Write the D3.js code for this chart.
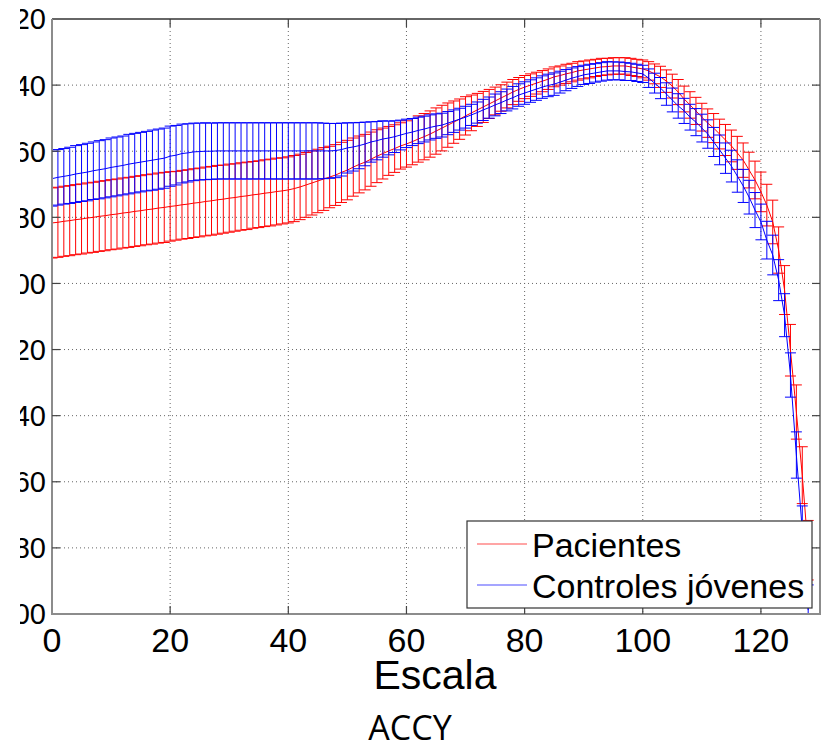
<!DOCTYPE html>
<html>
<head>
<meta charset="utf-8">
<script src="https://cdn.jsdelivr.net/npm/d3@7"></script>
<style>
  html, body { margin: 0; padding: 0; background: #fff; }
  svg { display: block; }
</style>
</head>
<body>
<svg id="chart" width="830" height="745"></svg>
<script>
// ---------------- DATA ----------------
const escala = d3.range(0, 129); // x positions 0..128

const pacientesMedia = [
  -181.7,-181.5,-181.2,-181.0,-180.7,-180.5,-180.2,-180.0,-179.7,-179.5,
  -179.2,-179.0,-178.7,-178.5,-178.2,-178.0,-177.7,-177.5,-177.2,-177.0,
  -176.7,-176.5,-176.2,-176.0,-175.7,-175.5,-175.2,-175.0,-174.7,-174.5,
  -174.2,-174.0,-173.7,-173.5,-173.2,-173.0,-172.7,-172.5,-172.2,-172.0,
  -171.7,-171.3,-170.8,-170.2,-169.6,-169.0,-168.4,-167.8,-167.2,-166.4,
  -165.7,-164.8,-164.0,-163.3,-162.4,-161.5,-160.7,-159.9,-159.2,-158.4,
  -157.8,-157.1,-156.3,-155.6,-154.8,-153.9,-153.0,-152.1,-151.2,-150.3,
  -149.3,-148.4,-147.5,-146.6,-145.7,-144.8,-143.9,-143.0,-142.1,-141.3,
  -140.6,-140.0,-139.4,-138.8,-138.2,-137.5,-137.1,-136.6,-136.2,-135.7,
  -135.4,-135.1,-134.8,-134.5,-134.4,-134.2,-134.2,-134.2,-134.5,-134.8,
  -135.1,-135.7,-136.6,-137.5,-138.8,-140.3,-142.1,-144.2,-146.0,-147.8,
  -149.7,-151.5,-153.0,-154.8,-156.6,-158.4,-160.5,-162.7,-165.7,-168.7,
  -172.3,-176.3,-181.4,-189.9,-202.0,-220.2,-238.9,-258.0,-280.7
];
const pacientesDE = [
  10.6,10.6,10.6,10.6,10.6,10.6,10.6,10.6,10.6,10.6,
  10.6,10.6,10.6,10.6,10.6,10.6,10.6,10.6,10.6,10.6,
  10.5,10.4,10.4,10.4,10.4,10.4,10.4,10.4,10.4,10.3,
  10.3,10.2,10.2,10.2,10.1,10.1,10.1,10.1,10.1,10.0,
  10.0,10.0,9.9,9.8,9.7,9.6,9.5,9.3,9.2,9.1,
  9.0,8.8,8.6,8.4,8.2,8.0,7.7,7.4,7.2,7.0,
  7.0,7.0,7.0,7.0,7.0,7.0,6.9,6.7,6.4,6.1,
  5.8,5.4,5.0,4.7,4.4,4.2,4.0,3.9,3.8,3.6,
  3.5,3.4,3.3,3.2,3.1,3.0,2.9,2.9,2.8,2.8,
  2.7,2.7,2.6,2.6,2.5,2.5,2.5,2.5,2.6,2.6,
  2.7,2.8,3.0,3.2,3.4,3.6,3.8,3.9,4.0,4.1,
  4.2,4.3,4.4,4.5,4.7,4.8,5.0,5.2,5.4,5.7,
  6.0,6.3,6.6,7.0,7.4,7.8,8.2,8.6,9.0
];
const controlesMedia = [
  -168.3,-167.9,-167.6,-167.3,-166.9,-166.6,-166.3,-165.9,-165.6,-165.3,
  -164.9,-164.6,-164.3,-163.9,-163.6,-163.3,-163.0,-162.7,-162.4,-162.1,
  -161.5,-161.2,-160.7,-160.5,-160.2,-160.1,-160.0,-160.0,-159.9,-159.9,
  -159.9,-159.9,-159.9,-159.9,-159.9,-159.9,-159.9,-159.9,-159.9,-159.9,
  -159.9,-159.9,-159.9,-159.9,-159.9,-159.9,-159.9,-159.9,-159.8,-159.5,
  -159.0,-158.7,-158.3,-157.8,-157.2,-156.8,-156.3,-156.0,-155.6,-155.1,
  -154.6,-154.2,-153.7,-153.3,-152.8,-152.4,-152.1,-151.5,-150.9,-150.3,
  -149.7,-149.0,-148.3,-147.5,-146.8,-146.0,-145.3,-144.5,-143.8,-143.0,
  -142.4,-141.8,-141.2,-140.6,-140.1,-139.7,-139.1,-138.5,-137.9,-137.4,
  -136.9,-136.6,-136.3,-136.0,-135.7,-135.7,-135.7,-135.9,-136.0,-136.3,
  -136.6,-137.9,-139.4,-140.9,-142.7,-144.5,-146.3,-147.8,-149.7,-151.2,
  -153.0,-154.8,-157.2,-159.6,-162.1,-164.5,-167.5,-170.5,-173.9,-177.8,
  -181.4,-186.9,-191.4,-199.0,-209.6,-227.7,-251.9,-274.6,-298.8
];
const controlesDE = [
  8.3,8.4,8.4,8.5,8.6,8.6,8.7,8.7,8.8,8.8,
  8.9,8.9,8.9,9.0,9.0,9.0,9.0,9.1,9.1,9.1,
  9.1,9.0,8.9,8.8,8.7,8.6,8.6,8.5,8.5,8.5,
  8.5,8.5,8.5,8.5,8.5,8.5,8.5,8.5,8.5,8.5,
  8.5,8.5,8.5,8.5,8.5,8.5,8.4,8.3,8.2,8.0,
  7.6,7.3,7.0,6.6,6.1,5.8,5.5,5.1,4.8,4.5,
  4.3,4.1,4.0,3.9,3.8,3.7,3.6,3.5,3.4,3.3,
  3.3,3.2,3.2,3.2,3.2,3.3,3.3,3.3,3.4,3.4,
  3.4,3.4,3.4,3.4,3.4,3.4,3.3,3.2,3.1,3.0,
  2.9,2.9,2.8,2.8,2.8,2.7,2.7,2.7,2.6,2.6,
  2.6,2.8,3.0,3.2,3.4,3.6,3.7,3.8,3.9,4.1,
  4.2,4.3,4.4,4.5,4.6,4.8,4.9,5.0,5.1,5.3,
  5.4,5.7,6.0,6.2,6.5,6.7,7.0,7.3,7.6
];

const xTicks = [0, 20, 40, 60, 80, 100, 120];
const yTicks = [-300, -280, -260, -240, -220, -200, -180, -160, -140, -120];
const seriesNames = ["Pacientes", "Controles jóvenes"];
const seriesColors = ["#ff0000", "#0000ff"];
const xLabel = "Escala";
const caption = "ACCY";

// ---------------- LAYOUT ----------------
const svg = d3.select("#chart");
const L = 52, R = 820, T = 19, B = 614;

const x = d3.scaleLinear().domain([0, 130]).range([L, R]);
const y = d3.scaleLinear().domain([-300, -120]).range([B, T]);

const defs = svg.append("defs");
defs.append("clipPath").attr("id", "plotclip")
  .append("rect").attr("x", L).attr("y", T).attr("width", R - L).attr("height", B - T);
// the y labels of the original figure are cropped on their left side
defs.append("clipPath").attr("id", "ylabclip")
  .append("rect").attr("x", 20).attr("y", 0).attr("width", 40).attr("height", 640);

// grid
const grid = svg.append("g");
grid.selectAll("line.vg").data(xTicks.filter(d => d > 0)).join("line")
  .attr("x1", d => x(d)).attr("x2", d => x(d)).attr("y1", T).attr("y2", B)
  .attr("stroke", "#666").attr("stroke-width", 1).attr("stroke-dasharray", "1,3");
grid.selectAll("line.hg").data(yTicks.filter(d => d > -300 && d < -120)).join("line")
  .attr("x1", L).attr("x2", R).attr("y1", d => y(d)).attr("y2", d => y(d))
  .attr("stroke", "#666").attr("stroke-width", 1).attr("stroke-dasharray", "1,3");

const plot = svg.append("g").attr("clip-path", "url(#plotclip)");

const groups = [
  { m: pacientesMedia, s: pacientesDE, c: seriesColors[0] },
  { m: controlesMedia, s: controlesDE, c: seriesColors[1] }
];
const cap = 5.5;
groups.forEach(g => {
  const gg = plot.append("g");
  let p = "";
  escala.forEach((xv, i) => {
    const px = x(xv);
    const y1 = y(g.m[i] + g.s[i]);
    const y2 = y(g.m[i] - g.s[i]);
    p += `M${px},${y1}V${y2}M${px - cap},${y1}H${px + cap}M${px - cap},${y2}H${px + cap}`;
  });
  gg.append("path").attr("d", p).attr("fill", "none").attr("stroke", g.c).attr("stroke-width", 1);
  const line = d3.line().x((d, i) => x(escala[i])).y(d => y(d));
  gg.append("path").attr("d", line(g.m)).attr("fill", "none").attr("stroke", g.c).attr("stroke-width", 1);
});

// frame
svg.append("line").attr("x1", L).attr("x2", R).attr("y1", T).attr("y2", T).attr("stroke", "#333").attr("stroke-width", 1.5);
svg.append("line").attr("x1", L).attr("x2", L).attr("y1", T).attr("y2", B + 1).attr("stroke", "#8c8c8c").attr("stroke-width", 2);
svg.append("line").attr("x1", R).attr("x2", R).attr("y1", T).attr("y2", B + 1).attr("stroke", "#8c8c8c").attr("stroke-width", 2);
svg.append("line").attr("x1", L - 1).attr("x2", R + 1).attr("y1", B).attr("y2", B).attr("stroke", "#8c8c8c").attr("stroke-width", 2);

// ticks
const tk = svg.append("g").attr("stroke", "#444").attr("stroke-width", 1.2);
yTicks.filter(d => d > -300 && d < -120).forEach(d => {
  tk.append("line").attr("x1", L).attr("x2", L + 8).attr("y1", y(d)).attr("y2", y(d));
  tk.append("line").attr("x1", R - 8).attr("x2", R).attr("y1", y(d)).attr("y2", y(d));
});
xTicks.filter(d => d > 0).forEach(d => {
  tk.append("line").attr("x1", x(d)).attr("x2", x(d)).attr("y1", B).attr("y2", B - 8);
  tk.append("line").attr("x1", x(d)).attr("x2", x(d)).attr("y1", T).attr("y2", T + 8);
});

// tick labels
svg.append("g").attr("clip-path", "url(#ylabclip)")
  .selectAll("text").data(yTicks).join("text")
  .attr("x", 46).attr("y", d => y(d)).attr("dy", "0.36em")
  .attr("text-anchor", "end")
  .attr("font-family", "Liberation Sans, Arial, sans-serif").attr("font-size", 29)
  .attr("fill", "#000").text(d => d);
svg.append("g").selectAll("text").data(xTicks).join("text")
  .attr("x", d => x(d)).attr("y", 652)
  .attr("text-anchor", "middle")
  .attr("font-family", "Liberation Sans, Arial, sans-serif").attr("font-size", 34)
  .attr("fill", "#000").text(d => d);

// axis label and caption
svg.append("text").attr("x", 435).attr("y", 689).attr("text-anchor", "middle")
  .attr("font-family", "Liberation Sans, Arial, sans-serif").attr("font-size", 41)
  .attr("fill", "#000").text(xLabel);
svg.append("text").attr("x", 410).attr("y", 740).attr("text-anchor", "middle")
  .attr("font-family", "Open Sans, sans-serif").attr("font-size", 34)
  .attr("fill", "#000").text(caption);

// legend
const lg = svg.append("g");
lg.append("rect").attr("x", 467).attr("y", 521).attr("width", 345).attr("height", 87)
  .attr("fill", "#fff").attr("stroke", "#333").attr("stroke-width", 1.2);
seriesNames.forEach((n, i) => {
  const yy = 544 + i * 41;
  lg.append("line").attr("x1", 477).attr("x2", 527).attr("y1", yy).attr("y2", yy)
    .attr("stroke", seriesColors[i]).attr("stroke-width", 1).attr("opacity", 0.7);
  lg.append("text").attr("x", 532).attr("y", yy + 13)
    .attr("font-family", "Liberation Sans, Arial, sans-serif").attr("font-size", 34)
    .attr("fill", "#000").text(n);
});
</script>
</body>
</html>
